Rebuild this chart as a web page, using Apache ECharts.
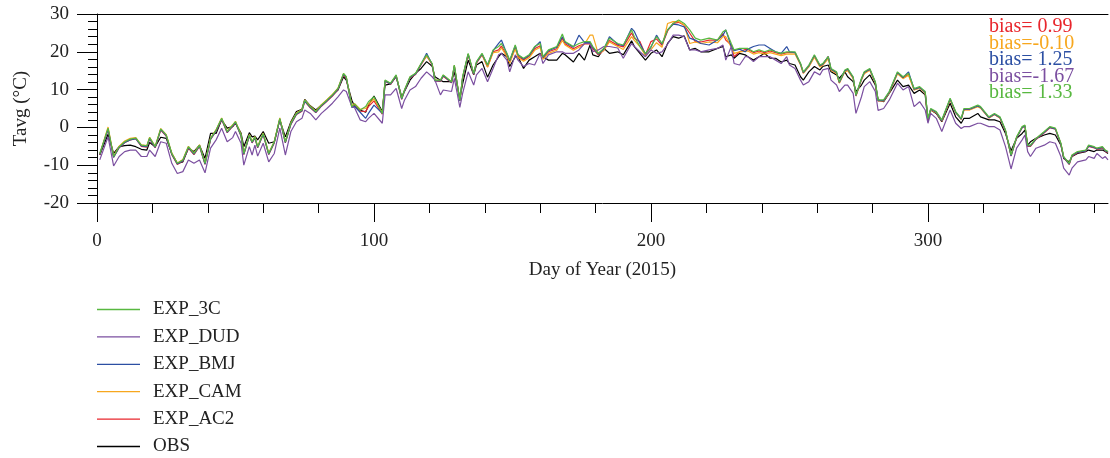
<!DOCTYPE html>
<html><head><meta charset="utf-8">
<script src="https://cdn.jsdelivr.net/npm/echarts@6/dist/echarts.min.js"></script>
<style>html,body{margin:0;padding:0;background:#fff}#c{width:1110px;height:458px}</style>
</head><body><div id="c"></div><script>
const days=[1,4,6,8,10,12,14,16,18,19,
21,23,25,27,29,31,33,35,37,39,
41,43,45,47,49,50,52,53,55,56,
57,58,60,62,64,66,68,70,72,74,
75,77,79,81,83,85,87,89,90,92,
93,95,97,98,100,103,104,106,108,110,
111,113,115,117,119,121,122,124,125,128,
129,131,132,134,136,137,139,141,143,145,
146,148,149,151,152,154,156,158,160,161,
163,166,168,169,172,174,176,178,179,181,
183,185,188,190,193,194,196,198,200,202,
204,206,208,210,212,214,216,218,221,224,
226,227,229,230,232,234,235,237,239,241,
243,245,247,249,250,252,254,255,257,259,
261,262,264,265,267,268,270,271,273,274,
276,277,279,281,282,284,286,289,291,293,
295,297,299,300,301,303,305,308,310,312,
313,315,318,319,322,324,326,328,330,332,
334,335,336,337,339,342,344,346,348,349,
351,352,354,357,358,360,361,363,364,365];

const exp3c=[-6.9,-0.2,-7.7,-5.1,-3.8,-3.1,-2.8,-4.7,-4.9,-2.7,
-5.1,-0.4,-2.0,-6.9,-9.5,-8.6,-5.1,-6.9,-4.7,-9.5,
-2.9,-0.7,2.4,-1.1,0.6,1.5,-2.0,-6.9,-2.0,-3.8,
-2.5,-5.1,-1.6,-6.9,-3.8,2.4,-3.8,1.1,3.7,4.6,
7.2,5.5,4.2,5.9,7.2,8.6,10.3,14.3,13.4,5.5,
6.2,4.6,5.5,6.8,8.1,3.7,12.5,11.7,13.9,7.7,
9.9,13.4,14.3,16.9,19.2,16.9,12.5,12.5,13.9,12.1,
16.5,7.2,13.4,19.6,14.3,17.4,19.6,16.5,20.5,21.4,
22.2,19.6,17.8,21.8,19.2,18.3,19.2,21.4,22.2,18.7,
20.5,21.4,24.7,22.7,21.4,22.2,22.7,22.7,21.4,19.6,
20.9,23.6,22.2,21.8,25.8,24.0,21.4,19.6,21.4,24.0,
22.2,25.8,27.5,28.4,27.5,25.8,23.6,23.1,23.6,23.1,
25.3,25.8,22.2,20.5,20.9,20.9,20.9,20.0,20.5,20.0,
20.5,20.0,19.6,20.0,20.0,20.0,17.0,14.7,16.5,19.2,
16.5,16.9,18.7,15.6,14.7,12.1,15.2,15.6,13.4,8.6,
13.0,14.7,15.6,12.1,7.3,7.3,9.5,14.7,13.4,14.3,
10.3,10.8,9.5,2.4,5.0,4.2,2.0,7.7,4.2,2.4,
5.0,5.0,5.9,5.5,2.8,3.7,2.8,-0.7,-7.3,-2.5,
0.2,0.6,-4.7,-4.7,-2.9,-1.1,0.2,-0.2,-4.2,-7.7,
-9.5,-7.3,-6.4,-6.0,-4.7,-5.1,-5.5,-5.1,-6.0,-6.4];

const obs=[-7.3,-1.8,-6.9,-5.1,-4.8,-4.7,-5.1,-5.8,-6.0,-4.0,
-5.1,-2.6,-2.9,-6.9,-9.5,-9.1,-5.5,-6.4,-4.7,-8.2,
-1.6,-1.6,2.0,-0.2,0.2,1.1,-1.5,-5.1,-1.4,-2.5,
-2.3,-3.3,-1.1,-4.2,-3.8,2.0,-2.5,1.5,4.2,4.8,
7.4,5.7,4.6,5.9,7.2,8.6,9.9,13.4,12.5,7.2,
5.5,4.6,4.0,5.9,8.3,4.2,11.2,11.5,13.4,8.1,
9.5,12.5,14.3,15.6,17.4,16.2,13.4,12.5,12.1,12.1,
14.7,7.7,11.5,17.8,13.9,16.5,17.4,13.3,16.5,18.7,
19.6,18.7,16.1,18.7,18.7,15.6,17.8,18.7,19.6,18.7,
17.8,17.8,19.6,19.2,17.3,19.6,17.8,21.8,19.2,18.7,
20.9,19.6,20.0,19.2,22.9,21.4,19.6,17.8,19.6,20.5,
18.7,22.2,24.0,23.6,24.2,20.5,20.9,20.0,20.0,20.9,
21.4,18.7,19.2,18.3,19.6,19.2,18.7,17.8,18.7,19.6,
18.3,18.3,17.3,17.8,16.9,16.5,13.4,12.5,14.7,16.1,
15.2,16.1,16.5,14.7,13.9,13.0,14.7,13.4,12.1,9.5,
11.2,12.5,13.9,11.2,7.3,6.8,9.0,12.5,10.8,11.2,
9.0,9.9,8.6,1.5,4.6,3.7,1.5,6.4,2.8,1.1,
2.4,2.4,3.7,2.8,2.0,2.0,1.5,-1.6,-6.2,-2.9,
-1.6,-0.7,-4.7,-3.8,-2.9,-2.0,-1.6,-2.0,-4.7,-8.2,
-9.1,-7.7,-6.9,-6.4,-6.0,-6.4,-6.0,-6.0,-6.4,-6.9];

const expDud=[-8.6,-2.5,-10.2,-7.7,-6.4,-6.0,-6.0,-7.7,-7.7,-6.0,
-7.7,-3.8,-4.2,-9.5,-12.2,-11.7,-8.6,-9.5,-8.6,-12.0,
-5.5,-3.3,-0.2,-3.8,-2.7,-1.1,-4.2,-10.0,-5.1,-7.3,
-4.7,-7.6,-4.2,-9.1,-6.9,-0.2,-7.3,-1.1,1.5,2.4,
4.6,3.7,2.0,3.7,5.0,6.4,8.1,9.9,9.5,5.5,
5.2,2.0,1.5,2.4,3.7,1.1,8.6,8.6,10.3,5.0,
7.2,9.9,10.8,13.0,14.7,13.4,12.5,8.6,9.9,9.5,
13.0,5.3,9.0,14.7,11.2,13.9,15.6,12.1,15.6,19.2,
19.6,17.8,14.7,19.2,17.8,16.1,16.9,16.5,19.6,16.9,
19.2,20.0,20.0,19.6,19.6,20.5,22.2,22.2,20.0,20.5,
21.4,21.4,21.0,18.3,22.2,21.4,20.0,18.7,20.5,19.6,
20.0,22.0,24.4,24.4,24.0,20.5,20.5,20.0,20.5,20.9,
21.8,17.8,21.4,16.9,16.5,18.7,18.7,17.4,18.7,18.7,
18.7,17.8,16.9,18.7,16.5,15.6,12.5,11.2,12.1,14.7,
13.9,15.2,15.6,12.5,11.2,9.5,11.2,11.2,9.0,3.7,
8.1,10.8,12.1,9.5,4.5,5.0,7.2,11.7,9.9,10.8,
5.5,6.8,4.6,1.1,3.7,2.4,-1.1,4.6,1.1,-0.3,
0.2,0.2,1.1,1.1,0.2,0.2,-0.7,-5.1,-11.0,-5.5,
-3.3,-2.0,-6.4,-7.7,-5.5,-4.7,-3.8,-4.2,-7.7,-10.8,
-12.6,-10.8,-9.1,-8.6,-7.7,-8.2,-6.9,-8.2,-7.7,-8.6];

const expBmj=[-7.1,-0.5,-7.9,-5.3,-4.0,-3.3,-3.0,-4.9,-5.1,-2.9,
-5.3,-0.6,-2.2,-7.1,-9.7,-8.8,-5.3,-7.1,-4.9,-9.7,
-3.1,-0.9,2.2,-1.3,0.4,1.3,-2.2,-7.1,-2.2,-4.0,
-2.7,-5.3,-1.8,-7.1,-4.0,2.2,-4.0,0.9,3.5,4.4,
7.0,5.3,4.0,5.7,7.0,8.4,10.1,14.1,13.2,5.3,
5.6,4.0,2.4,3.7,5.9,3.7,12.3,11.5,13.7,7.5,
9.7,13.2,14.1,16.7,19.6,16.7,12.3,12.3,13.7,11.9,
16.3,7.0,13.2,19.4,14.1,17.2,19.4,16.5,20.3,22.2,
23.1,19.4,17.6,21.6,19.2,18.1,19.0,21.2,22.7,18.5,
20.3,21.2,24.0,22.5,21.2,24.4,22.5,22.5,21.2,19.4,
20.7,24.0,22.0,21.6,26.2,25.4,22.2,19.4,21.2,24.4,
22.0,25.8,27.3,27.1,26.6,23.6,23.1,22.2,21.8,23.1,
24.4,25.8,21.4,20.3,20.7,20.0,20.7,21.4,21.8,21.8,
20.9,20.0,19.6,21.4,20.0,19.8,16.8,14.5,16.3,19.0,
16.3,16.7,18.7,15.4,14.5,11.9,15.0,15.4,13.2,8.4,
12.8,14.5,15.4,11.9,7.1,7.1,9.3,14.5,13.2,14.7,
10.1,10.6,9.3,2.2,4.8,4.0,1.8,7.5,4.0,2.2,
4.8,4.8,5.7,5.3,2.6,3.5,2.6,-0.9,-7.5,-2.7,
0.0,0.4,-4.9,-4.9,-3.1,-1.3,0.0,-0.4,-4.4,-7.9,
-9.7,-7.5,-6.6,-6.2,-4.9,-5.3,-5.7,-5.3,-6.2,-6.6];

const expAc2=[-7.2,-0.5,-7.9,-5.4,-4.0,-3.3,-3.0,-5.0,-5.2,-3.0,
-5.4,-0.7,-2.3,-7.2,-9.8,-8.9,-5.5,-7.2,-5.0,-9.8,
-3.2,-1.0,2.1,-1.4,0.3,1.2,-2.3,-7.2,-2.3,-4.1,
-2.8,-5.4,-1.9,-7.2,-4.1,2.1,-4.1,0.8,3.4,4.3,
6.9,5.2,3.9,5.6,6.9,8.3,10.0,13.9,13.0,5.4,
6.0,4.3,4.2,5.5,7.0,3.5,12.2,11.4,13.6,7.4,
9.6,13.1,14.0,16.6,18.9,16.6,12.3,12.2,13.5,11.8,
16.1,7.0,13.0,19.2,14.0,17.0,19.2,16.0,20.0,20.5,
21.5,19.0,17.2,21.2,18.8,17.8,18.8,20.8,21.6,18.4,
20.0,20.8,23.6,22.1,20.8,21.6,22.1,22.1,20.8,19.2,
20.4,23.0,21.7,21.3,25.0,23.6,22.7,19.2,22.7,23.4,
21.7,25.5,27.5,27.8,27.0,24.9,22.7,22.6,23.1,23.1,
24.8,23.1,21.8,18.7,20.0,20.6,20.6,19.8,20.2,19.8,
20.2,19.8,19.4,19.8,19.8,19.8,16.7,14.4,16.2,18.9,
16.2,16.6,18.7,15.3,14.4,11.8,14.9,15.3,13.1,8.3,
12.7,14.4,15.3,11.8,7.0,7.0,9.2,14.4,13.1,14.0,
10.0,10.5,9.2,2.1,4.7,3.9,1.7,7.4,4.0,2.2,
4.7,4.7,5.6,5.2,2.5,3.4,2.5,-1.0,-7.6,-2.8,
-0.1,0.3,-5.0,-5.0,-3.2,-1.4,-0.1,-0.5,-4.5,-8.0,
-9.8,-7.6,-6.7,-6.3,-5.0,-5.4,-5.8,-5.4,-6.3,-6.7];

const expCam=[-7.0,0.1,-7.6,-5.0,-3.6,-2.9,-2.7,-4.6,-4.8,-2.6,
-5.0,-0.3,-1.9,-6.8,-9.4,-8.5,-5.0,-6.8,-4.6,-9.4,
-2.8,-0.6,2.5,-1.0,0.7,1.6,-1.9,-6.8,-1.9,-3.7,
-2.4,-5.0,-1.5,-6.8,-3.7,2.5,-3.7,1.2,3.8,4.7,
7.3,5.6,4.3,6.0,7.3,8.7,10.4,14.2,13.3,5.8,
6.3,4.8,5.0,6.2,7.5,3.9,12.4,11.6,13.8,7.6,
9.8,13.3,14.2,16.8,19.0,16.8,12.6,12.4,13.8,12.0,
16.4,7.1,13.3,19.4,14.2,17.2,19.3,16.0,19.8,20.0,
21.0,18.8,17.0,20.8,18.5,17.5,18.4,20.4,21.2,18.0,
19.6,20.4,23.0,21.8,20.4,21.2,22.0,24.4,24.4,19.4,
20.4,22.6,21.4,20.6,24.0,23.0,21.4,19.0,20.6,22.4,
21.2,27.5,28.0,28.0,27.1,22.2,22.6,22.2,22.6,22.4,
24.0,24.0,21.2,19.6,20.0,20.2,20.2,19.4,19.8,19.4,
19.8,19.4,19.0,19.4,19.4,19.4,16.5,14.3,16.0,18.6,
16.0,16.4,18.2,15.1,14.2,11.7,14.7,15.0,12.9,8.3,
12.6,14.2,15.1,11.7,7.0,7.0,9.1,14.2,12.9,13.8,
9.9,10.4,9.1,2.1,4.6,3.9,1.7,7.3,3.9,2.1,
4.6,4.6,5.5,5.1,2.5,3.4,2.5,-0.9,-7.4,-2.6,
0.1,0.5,-4.8,-4.8,-3.0,-1.2,0.1,-0.3,-4.3,-7.8,
-9.6,-7.4,-6.5,-6.1,-4.8,-5.2,-5.6,-5.2,-6.1,-6.5];

const legendOrder=['EXP_3C','EXP_DUD','EXP_BMJ','EXP_CAM','EXP_AC2','OBS'];
const biasTexts=['bias= 0.99','bias=-0.10','bias= 1.25','bias=-1.67','bias= 1.33'];
const xMajor=[0,100,200,300];
const xMinor=[20,40,60,80,120,140,160,180,220,240,260,280,320,340,360];

const COL={OBS:'#000000',EXP_AC2:'#e8262c',EXP_CAM:'#f7a71e',EXP_BMJ:'#2c4fa3',EXP_DUD:'#7b4fa0',EXP_3C:'#58b840'};
const biasColors=[COL.EXP_AC2,COL.EXP_CAM,COL.EXP_BMJ,COL.EXP_DUD,COL.EXP_3C];
const FONT='"Liberation Serif", "Times New Roman", serif';

const drawOrder=[['OBS',obs],['EXP_AC2',expAc2],['EXP_CAM',expCam],['EXP_BMJ',expBmj],['EXP_DUD',expDud],['EXP_3C',exp3c]];

const chart=echarts.init(document.getElementById('c'),null,{renderer:'canvas'});
chart.setOption({
  animation:false,
  backgroundColor:'#fff',
  grid:{left:97,right:2,top:14,bottom:255,containLabel:false},
  xAxis:[
    {type:'value',min:0,max:365,position:'bottom',
     axisLine:{show:true,onZero:false,lineStyle:{color:'#000',width:1}},
     axisTick:{show:true,customValues:xMajor,length:19,lineStyle:{color:'#000',width:1}},
     axisLabel:{show:true,customValues:xMajor,margin:29,fontFamily:FONT,fontSize:19,color:'#222'},
     splitLine:{show:false},
     name:'Day of Year (2015)',nameLocation:'middle',nameGap:58,
     nameTextStyle:{fontFamily:FONT,fontSize:19,color:'#222'}},
    {type:'value',min:0,max:365,position:'bottom',
     axisLine:{show:false,onZero:false},
     axisTick:{show:true,customValues:xMinor,length:10,lineStyle:{color:'#000',width:1}},
     axisLabel:{show:false},splitLine:{show:false}},
    {type:'value',min:0,max:365,position:'top',
     axisLine:{show:true,onZero:false,lineStyle:{color:'#000',width:1}},
     axisTick:{show:false},axisLabel:{show:false},splitLine:{show:false}}
  ],
  yAxis:{type:'value',min:-20,max:30,interval:10,
     axisLine:{show:true,onZero:false,lineStyle:{color:'#000',width:1}},
     axisTick:{show:true,length:20,lineStyle:{color:'#000',width:1}},
     minorTick:{show:true,splitNumber:5,length:9,lineStyle:{color:'#000',width:1}},
     axisLabel:{margin:28,fontFamily:FONT,fontSize:19,color:'#222'},
     splitLine:{show:false},
     name:'Tavg (°C)',nameLocation:'middle',nameGap:66,
     nameTextStyle:{fontFamily:FONT,fontSize:19,color:'#222'}},
  legend:{orient:'vertical',left:97,top:300,padding:0,itemWidth:43,itemHeight:14,itemGap:8.4,
     icon:'path://M0,0L43,0L43,1.3L0,1.3Z',
     data:legendOrder,
     textStyle:{fontFamily:FONT,fontSize:19,color:'#222',padding:[0,0,0,8]}},
  graphic:biasTexts.map((t,i)=>({type:'text',x:989,y:27+i*16.5,
     style:{text:t,fill:biasColors[i],font:'20px '+FONT,verticalAlign:'middle'}})),
  series:drawOrder.map(([name,arr])=>({
     name:name,type:'line',xAxisIndex:0,symbol:'none',
     data:days.map((d,i)=>[d,arr[i]]),
     lineStyle:{color:COL[name],width:1.2},itemStyle:{color:COL[name]},
     emphasis:{disabled:true}}))
});
</script></body></html>
